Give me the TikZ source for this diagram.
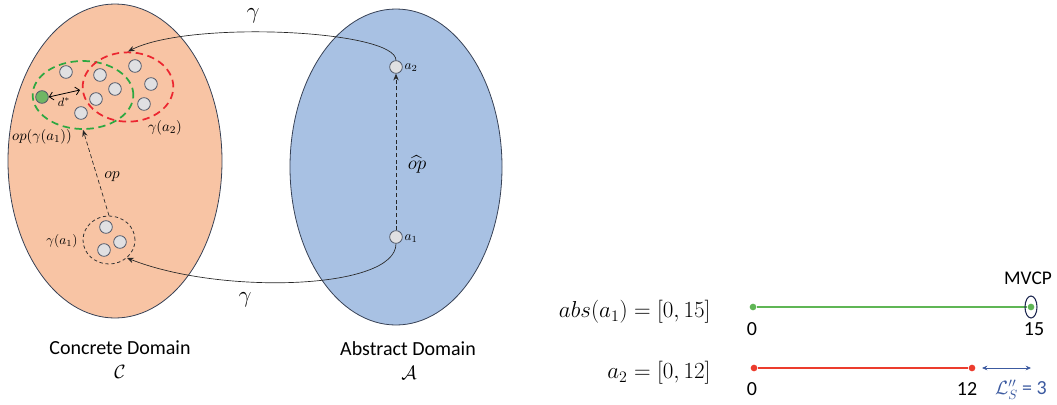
\documentclass[tikz,border=0pt]{standalone}
\usepackage{amsmath}
\usepackage{fontspec}
\setmainfont{Carlito}
\usetikzlibrary{shapes.geometric,arrows.meta}
\definecolor{concfill}{RGB}{248,196,164}
\definecolor{abstfill}{RGB}{168,193,227}
\definecolor{edgec}{RGB}{55,65,85}
\definecolor{dotgray}{RGB}{224,224,226}
\definecolor{dotedge}{RGB}{80,88,105}
\definecolor{dgreen}{RGB}{45,168,65}
\definecolor{dred}{RGB}{236,38,48}
\definecolor{ptgreen}{RGB}{112,182,100}
\definecolor{lgreen}{RGB}{95,182,85}
\definecolor{lred}{RGB}{236,60,45}
\definecolor{lblue}{RGB}{60,90,160}
\definecolor{mvcpc}{RGB}{30,40,80}
\newcommand{\fsz}[1]{\fontsize{#1}{#1}\selectfont}
\tikzset{
  domainshape/.style={ellipse, draw=edgec, line width=0.6pt, inner sep=0pt},
  gdot/.style={circle, draw=dotedge, fill=dotgray, line width=0.6pt, minimum size=9.5pt, inner sep=0pt},
  grp/.style={ellipse, line width=1.3pt, dash pattern=on 5.5pt off 3.5pt, inner sep=0pt},
  sgrp/.style={ellipse, draw=black!80, line width=0.6pt, dash pattern=on 2.5pt off 2pt, inner sep=0pt},
  conn/.style={-{Stealth[length=5pt,width=4pt]}, line width=0.5pt, black!85},
  dconn/.style={conn, dash pattern=on 3pt off 2pt},
  pt/.style={circle, inner sep=0pt, minimum size=5pt},
  lbl/.style={inner sep=1pt},
}
\begin{document}
\begin{tikzpicture}[x=0.75pt,y=-0.75pt]
\useasboundingbox (0,0) rectangle (1057,404);
% domains
\node[domainshape, fill=concfill, minimum width=160.5pt, minimum height=235.5pt] (C) at (115,161) {};
\node[domainshape, fill=abstfill, minimum width=159pt, minimum height=237pt] (A) at (396,167) {};
% concrete points
\node[gdot] (c1) at (66,72) {};
\node[gdot] (c2) at (100,75) {};
\node[gdot] (c3) at (135,66) {};
\node[gdot] (c4) at (115,89) {};
\node[gdot] (c5) at (151,84) {};
\node[gdot] (c6) at (96,99) {};
\node[gdot] (c7) at (144,104) {};
\node[gdot] (c8) at (81,113) {};
\node[gdot, fill=ptgreen] (g) at (42,97) {};
% groups
\node[grp, draw=dgreen, minimum width=75.5pt, minimum height=51pt] (G) at (83,95) {};
\node[grp, draw=dred, minimum width=68pt, minimum height=52pt] (R) at (128,87) {};
\node[sgrp, minimum width=39pt, minimum height=36pt] (S) at (109,240) {};
\node[gdot] (s1) at (106,227) {};
\node[gdot] (s2) at (120,242) {};
\node[gdot] (s3) at (104,250) {};
% abstract points
\node[gdot] (a2) at (396,67) {};
\node[gdot] (a1) at (396,237) {};
\node[lbl, font=\fsz{10}, anchor=west] (la2) at (403,68) {$a_2$};
\node[lbl, font=\fsz{10}, anchor=west] (la1) at (403,239) {$a_1$};
% labels concrete
\node[lbl, font=\fsz{11}] (lopg) at (42,137) {$op(\gamma(a_1))$};
\node[lbl, font=\fsz{11}] (lga2) at (165,128) {$\gamma(a_2)$};
\node[lbl, font=\fsz{10}] (lga1) at (62,241) {$\gamma(a_1)$};
\node[lbl, font=\fsz{13}] (lop) at (112,177) {$op$};
\node[lbl, font=\fsz{15}] (lophat) at (417,164) {$\widehat{op}$};
\node[lbl, font=\fsz{16}] (lgtop) at (253,16) {$\gamma$};
\node[lbl, font=\fsz{16}] (lgbot) at (245,300) {$\gamma$};
\node[lbl, font=\fsz{9}] (lds) at (64,102) {$d^{*}$};
\coordinate (dend) at (80,90);
% titles
\node[lbl, font=\fsz{15}] (tc) at (120,348) {Concrete Domain};
\node[lbl, font=\fsz{15}] (tcm) at (120,372) {$\mathcal{C}$};
\node[lbl, font=\fsz{15}] (ta) at (408,349) {Abstract Domain};
\node[lbl, font=\fsz{15}] (tam) at (409,373) {$\mathcal{A}$};
% connectors
\draw[conn] (a2.north) .. controls (396,30) and (190,20) .. (R.north);
\draw[conn] (a1.south) .. controls (396,290) and (220,295) .. (S.-45);
\draw[dconn] (S.north) -- (G.south);
\draw[dconn] (a1.north) -- (a2.south);
\draw[{Straight Barb[length=3pt]}-{Straight Barb[length=3pt]}, line width=0.6pt] (g.east) -- (dend);
% right part
\node[lbl, font=\fsz{16.5}, anchor=east] (absl) at (712,312) {$abs(a_1) = [0, 15]$};
\node[lbl, font=\fsz{16.5}, anchor=east] (a2l) at (712,373) {$a_2 = [0, 12]$};
\node[pt, fill=lgreen] (g0) at (753,307) {};
\node[pt, fill=lgreen] (g15) at (1031,307) {};
\draw[lgreen, line width=1.5pt] (g0) -- (g15);
\node[ellipse, draw=mvcpc, line width=0.8pt, inner sep=0pt, minimum width=9pt, minimum height=16.5pt] (mv) at (1031,307) {};
\node[lbl, font=\fsz{14.5}] (mvcp) at (1028,278) {MVCP};
\node[lbl, font=\fsz{15}] (n0a) at (752,329) {0};
\node[lbl, font=\fsz{15}] (n15) at (1034,329) {15};
\node[pt, fill=lred] (r0) at (754,368) {};
\node[pt, fill=lred] (r12) at (972,368) {};
\draw[lred, line width=1.5pt] (r0) -- (r12);
\node[lbl, font=\fsz{15}] (n0b) at (752,389) {0};
\node[lbl, font=\fsz{15}] (n12) at (967,389) {12};
\coordinate (b1) at (982,368);
\coordinate (b2) at (1031,368);
\draw[lblue, line width=0.6pt, {Stealth[length=4pt,width=3.5pt]}-{Stealth[length=4pt,width=3.5pt]}] (b1) -- (b2);
\node[lbl, font=\fsz{14}, text=lblue] (lls) at (1021,390) {$\mathcal{L}''_S$ {\fsz{15}= 3}};
\end{tikzpicture}
\end{document}
